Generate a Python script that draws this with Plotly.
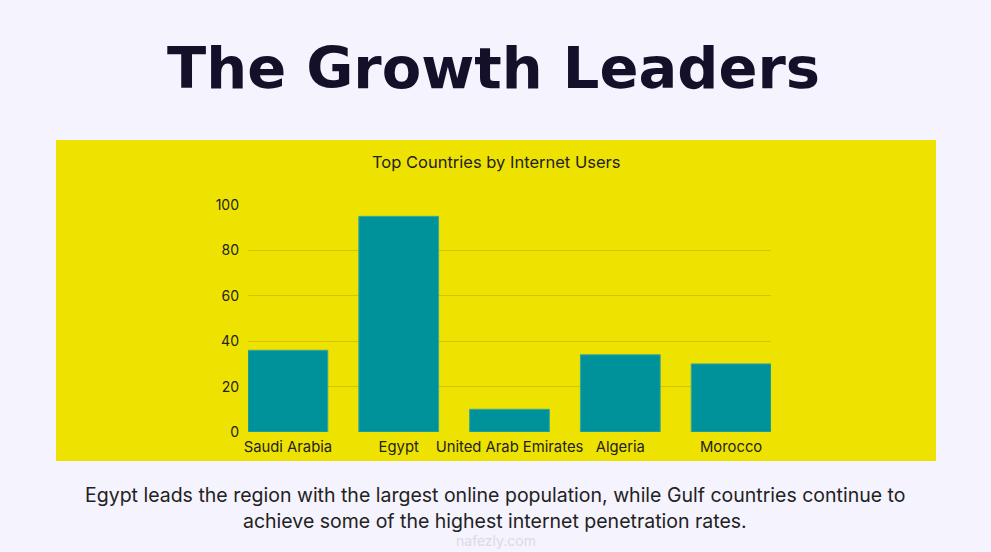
import plotly.graph_objects as go

countries = ["Saudi Arabia", "Egypt", "United Arab Emirates", "Algeria", "Morocco"]
users = [36, 95, 10, 34, 30]
y_ticks = [0, 20, 40, 60, 80, 100]

title_text = "The Growth Leaders"
chart_title = "Top Countries by Internet Users"
caption_lines = [
    "Egypt leads the region with the largest online population, while Gulf countries continue to",
    "achieve some of the highest internet penetration rates.",
]

W, H = 991, 552
fig = go.Figure()
fig.add_trace(go.Bar(
    x=countries, y=users,
    marker=dict(color="#00929a", line=dict(color="#3aa89a", width=1)),
    hoverinfo="x+y",
))

# yellow panel (paper coords)
fig.add_shape(type="rect", xref="paper", yref="paper",
              x0=(56 - 248) / 523, x1=(936 - 248) / 523,
              y0=(432 - 461) / 227, y1=(432 - 140) / 227,
              fillcolor="#eee200", line=dict(width=0), layer="below")

fig.add_annotation(text=title_text, xref="paper", yref="paper",
                   x=(493 - 248) / 523, y=(432 - 68) / 227, showarrow=False,
                   font=dict(family="DejaVu Sans", size=57.5, color="#15102a", weight="bold"),
                   xanchor="center", yanchor="middle")
fig.add_annotation(text=chart_title, xref="paper", yref="paper",
                   x=(496 - 248) / 523, y=(432 - 162) / 227, showarrow=False,
                   font=dict(family="Inter", size=16.5, color="#222222"),
                   xanchor="center", yanchor="middle")
for i, line in enumerate(caption_lines):
    fig.add_annotation(text=line, xref="paper", yref="paper",
                       x=(495 - 248) / 523, y=(432 - (495 + 26 * i)) / 227, showarrow=False,
                       font=dict(family="Inter", size=19.5, color="#222222"),
                       xanchor="center", yanchor="middle")
fig.add_annotation(text="nafezly.com", xref="paper", yref="paper",
                   x=(496 - 248) / 523, y=(432 - 540) / 227, showarrow=False,
                   font=dict(family="Inter", size=14, color="#dcdae4"),
                   xanchor="center", yanchor="middle")

fig.update_layout(
    width=W, height=H,
    margin=dict(l=248, r=W - 771, t=205, b=H - 432),
    paper_bgcolor="#f5f3fd", plot_bgcolor="rgba(0,0,0,0)",
    bargap=0.28, showlegend=False,
    font=dict(family="Inter", color="#222222"),
)
fig.update_xaxes(range=[-0.36, 4.36], showgrid=False, showline=False, ticks="",
                 tickfont=dict(size=14.8, color="#222222"), ticklabelstandoff=4)
fig.update_yaxes(range=[0, 100], tickvals=y_ticks, showgrid=True, gridcolor="#d2c600",
                 gridwidth=1, zeroline=False, showline=False, ticks="",
                 tickfont=dict(size=14, color="#222222"), ticklabelstandoff=8)

fig.write_html("out.html", config={"displayModeBar": False},
               post_script="document.body.style.margin='0';document.body.style.overflow='hidden';")
